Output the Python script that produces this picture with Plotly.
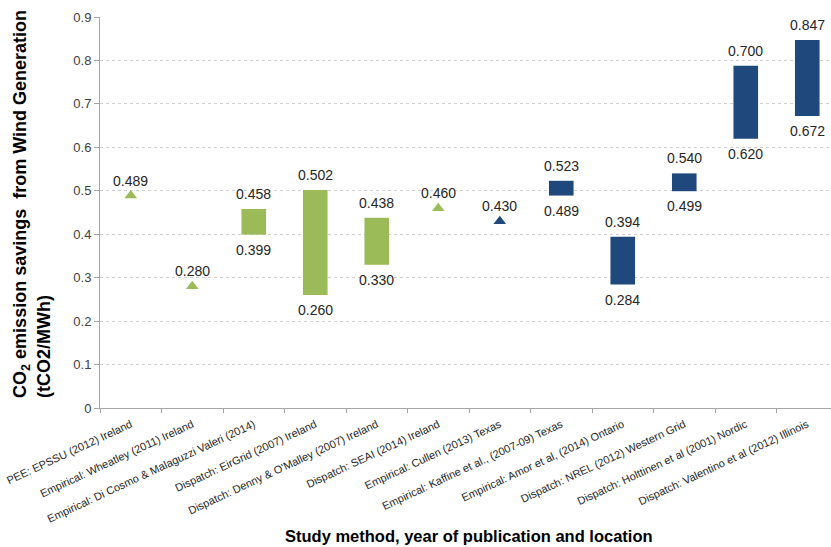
import plotly.graph_objects as go

categories = [
    "PEE: EPSSU (2012) Ireland",
    "Empirical: Wheatley (2011) Ireland",
    "Empirical: Di Cosmo & Malaguzzi Valeri (2014)",
    "Dispatch: EirGrid (2007) Ireland",
    "Dispatch: Denny & O'Malley (2007) Ireland",
    "Dispatch: SEAI (2014) Ireland",
    "Empirical: Cullen (2013) Texas",
    "Empirical: Kaffine et al., (2007-09) Texas",
    "Empirical: Amor et al, (2014) Ontario",
    "Dispatch: NREL (2012) Western Grid",
    "Dispatch: Holttinen et al (2001) Nordic",
    "Dispatch: Valentino et al (2012) Illinois",
]
group = ["Ireland"] * 6 + ["Other"] * 6
range_low = [None, None, 0.399, 0.260, 0.330, None, None, 0.489, 0.284, 0.499, 0.620, 0.672]
range_high = [None, None, 0.458, 0.502, 0.438, None, None, 0.523, 0.394, 0.540, 0.788, 0.847]
point_value = [0.489, 0.280, None, None, None, 0.460, 0.430, None, None, None, None, None]
top_label = ["0.489", "0.280", "0.458", "0.502", "0.438", "0.460", "0.430", "0.523", "0.394", "0.540", "0.700", "0.847"]
bottom_label = [None, None, "0.399", "0.260", "0.330", None, None, "0.489", "0.284", "0.499", "0.620", "0.672"]
y_ticks = [0, 0.1, 0.2, 0.3, 0.4, 0.5, 0.6, 0.7, 0.8, 0.9]

GREEN = "#9BBB59"
BLUE = "#1F497D"
color_of = {"Ireland": GREEN, "Other": BLUE}
FONT = "Liberation Sans, Arial, sans-serif"

fig = go.Figure()

bx, bb, bh, bc = [], [], [], []
for c, lo, hi, g in zip(categories, range_low, range_high, group):
    if lo is not None:
        bx.append(c); bb.append(lo); bh.append(hi - lo); bc.append(color_of[g])
fig.add_trace(go.Bar(x=bx, y=bh, base=bb, marker=dict(color=bc, line=dict(width=0)),
                     width=0.4, showlegend=False, hoverinfo="skip"))

px, py, pc = [], [], []
for c, v, g in zip(categories, point_value, group):
    if v is not None:
        px.append(c); py.append(v); pc.append(color_of[g])
fig.add_trace(go.Scatter(x=px, y=py, mode="markers",
                         marker=dict(symbol="triangle-up", size=11, color=pc),
                         showlegend=False, hoverinfo="skip"))

annotations = []
for i, c in enumerate(categories):
    topv = range_high[i] if range_high[i] is not None else point_value[i]
    annotations.append(dict(x=c, y=topv, xref="x", yref="y", text=top_label[i],
                            showarrow=False, yshift=15, yanchor="middle",
                            font=dict(size=14, color="#262626", family=FONT)))
    if bottom_label[i] is not None:
        annotations.append(dict(x=c, y=range_low[i], xref="x", yref="y", text=bottom_label[i],
                                showarrow=False, yshift=-15, yanchor="middle",
                                font=dict(size=14, color="#262626", family=FONT)))

annotations.append(dict(
    text="CO<sub>2</sub> emission savings  from Wind Generation<br>(tCO2/MWh)",
    xref="paper", yref="paper", x=-0.093, y=0.522, xanchor="center", yanchor="middle",
    textangle=-90, align="left", showarrow=False,
    font=dict(size=18, color="#000000", family=FONT, weight="bold")))
annotations.append(dict(
    text="Study method, year of publication and location",
    xref="paper", yref="paper", x=0.505, y=-0.327, xanchor="center", yanchor="middle",
    showarrow=False, font=dict(size=16.5, color="#000000", family=FONT, weight="bold")))

fig.update_layout(
    width=831, height=547,
    margin=dict(l=100, r=0, t=17, b=139),
    paper_bgcolor="white", plot_bgcolor="white",
    barmode="overlay",
    font=dict(family=FONT),
    annotations=annotations,
    xaxis=dict(
        type="category", categoryorder="array", categoryarray=categories,
        range=[-0.5, 11.386], tickson="boundaries", ticks="outside", ticklen=4,
        tickcolor="#a6a6a6", showline=True, linecolor="#a6a6a6", linewidth=1,
        showgrid=False, tickangle=-25, automargin=False, ticklabelstandoff=5,
        tickfont=dict(size=11, color="#262626", family=FONT),
    ),
    yaxis=dict(
        range=[0, 0.9], tickvals=y_ticks, ticktext=[f"{v:g}" for v in y_ticks],
        ticks="outside", ticklen=5, tickcolor="#a6a6a6", automargin=False,
        showline=True, linecolor="#a6a6a6", linewidth=1,
        showgrid=True, gridcolor="#cfcfcf", griddash="dot", gridwidth=1,
        zeroline=False,
        tickfont=dict(size=13, color="#404040", family=FONT),
    ),
)

fig.write_html("out.html", config={"displayModeBar": False},
               post_script="document.body.style.margin='0';")
